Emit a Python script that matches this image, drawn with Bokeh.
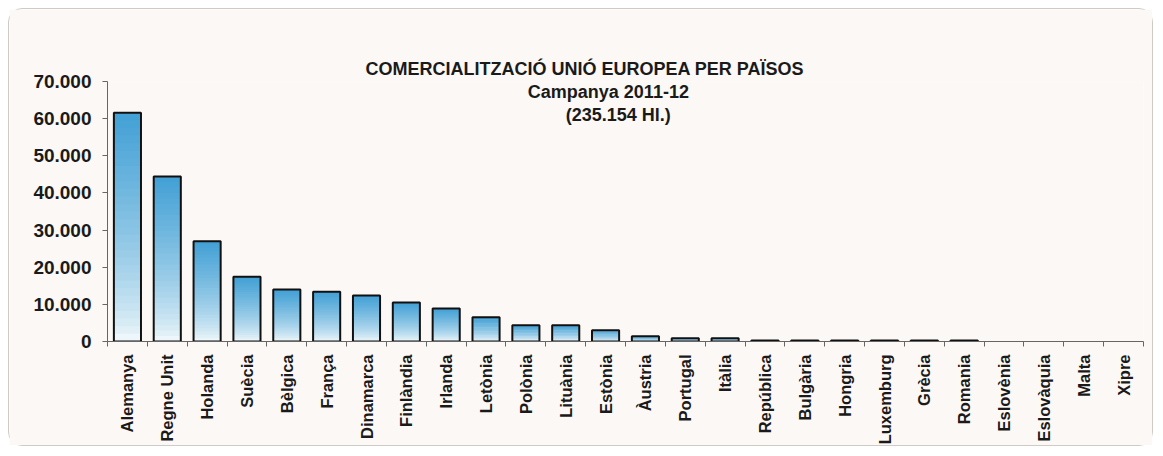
import math
from bokeh.plotting import figure
from bokeh.models import Range1d, FixedTicker, CustomJSTickFormatter, Label
from bokeh.embed import file_html
from bokeh.resources import INLINE

countries = ["Alemanya", "Regne Unit", "Holanda", "Suècia", "Bèlgica", "França",
             "Dinamarca", "Finlàndia", "Irlanda", "Letònia", "Polònia", "Lituània",
             "Estònia", "Àustria", "Portugal", "Itàlia", "República", "Bulgària",
             "Hongria", "Luxemburg", "Grècia", "Romania", "Eslovènia", "Eslovàquia",
             "Malta", "Xipre"]
values = [61600, 44400, 27000, 17400, 14000, 13400, 12400, 10500, 8900, 6500,
          4400, 4400, 3000, 1400, 900, 900, 300, 250, 250, 250, 250, 250, 0, 0, 0, 0]
y_ticks = [0, 10000, 20000, 30000, 40000, 50000, 60000, 70000]
y_labels = ["0", "10.000", "20.000", "30.000", "40.000", "50.000", "60.000", "70.000"]
title_lines = ["COMERCIALITZACIÓ UNIÓ EUROPEA PER PAÏSOS", "Campanya 2011-12", "(235.154 Hl.)"]

FONT = "Liberation Sans"
BG = "#fcf8f5"
BAR_W = 0.68
N = 30
c_top = (66, 160, 213)
c_bot = (247, 251, 252)

def mix(t):
    t = t ** 0.7
    r = [round(c_bot[j] + (c_top[j] - c_bot[j]) * t) for j in range(3)]
    return "#%02x%02x%02x" % tuple(r)

n = len(countries)
xs = [i + 0.5 for i in range(n)]

gx, gb, gt, gc = [], [], [], []
for x, v in zip(xs, values):
    if v <= 0:
        continue
    for k in range(N):
        gx.append(x)
        gb.append(v * k / N)
        gt.append(min(v, v * (k + 1.8) / N))
        gc.append(mix((k + 0.5) / N))

ox = [x for x, v in zip(xs, values) if v > 0]
ov = [v for v in values if v > 0]

p = figure(width=1145, height=438, x_range=Range1d(0, n), y_range=Range1d(0, 70000),
           output_backend="svg", toolbar_location=None,
           min_border_left=98, min_border_right=11, min_border_top=72, min_border_bottom=104)
p.background_fill_color = BG
p.border_fill_color = BG
p.outline_line_color = None
p.xgrid.grid_line_color = None
p.ygrid.grid_line_color = None
p.styles = {"margin": "8px", "border": "1px solid #cfcac5", "border-radius": "14px"}

p.title.text = title_lines[0]
p.title.align = "left"
p.title.offset = 258
p.title.standoff = 5
p.title.text_font = FONT
p.title.text_font_style = "bold"
p.title.text_font_size = "18px"
p.title.text_color = "#1a1a1a"

p.vbar(x=gx, bottom=gb, top=gt, width=BAR_W, fill_color=gc, line_color=None)
p.vbar(x=ox, top=ov, bottom=0, width=BAR_W, fill_color=None, line_color="#111111", line_width=2)

# y axis
ya = p.yaxis[0]
ya.ticker = FixedTicker(ticks=y_ticks, minor_ticks=[])
ya.major_label_overrides = dict(zip(y_ticks, y_labels))
ya.major_tick_out = 5
ya.major_tick_in = 0
ya.major_tick_line_color = "#666666"
ya.axis_line_color = "#666666"
ya.major_label_text_font = FONT
ya.major_label_text_font_style = "bold"
ya.major_label_text_font_size = "19px"
ya.major_label_text_color = "#1a1a1a"
ya.major_label_standoff = 11

# x axis
xa = p.xaxis[0]
xa.ticker = FixedTicker(ticks=xs, minor_ticks=list(range(n + 1)))
xa.formatter = CustomJSTickFormatter(args=dict(names=countries),
                                     code="return names[Math.floor(tick)];")
xa.major_tick_line_color = None
xa.major_tick_out = 0
xa.major_tick_in = 0
xa.minor_tick_out = 5
xa.minor_tick_in = 0
xa.minor_tick_line_color = "#666666"
xa.axis_line_color = "#666666"
xa.major_label_orientation = math.pi / 2
xa.major_label_text_font = FONT
xa.major_label_text_font_style = "bold"
xa.major_label_text_font_size = "16.5px"
xa.major_label_text_color = "#1a1a1a"
xa.major_label_standoff = 8

for txt, tx, ty in zip(title_lines[1:], [12.57, 12.82], [67060, 60920]):
    p.add_layout(Label(x=tx, y=ty, text=txt, text_align="center", text_baseline="middle",
                       text_font=FONT, text_font_style="bold", text_font_size="18px",
                       text_color="#1a1a1a"))

html = file_html(p, INLINE)
html = html.replace("<body>", '<body style="background:%s">' % BG, 1)
open("out.html", "w").write(html)
